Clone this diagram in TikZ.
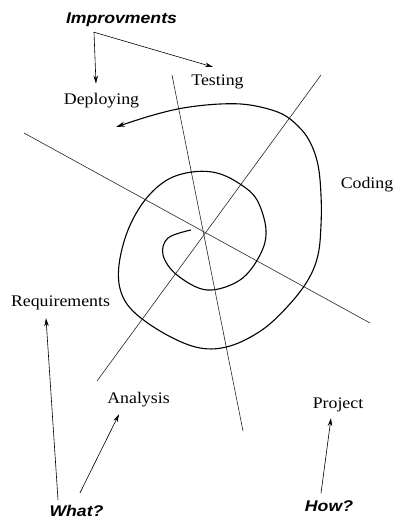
\documentclass[tikz,border=0pt]{standalone}
\usepackage{fontspec}
\setmainfont{Liberation Serif}[FakeStretch=1.1]
\newfontfamily\questfont{Liberation Sans}[FakeStretch=1.14]
\usepackage{tikz}
\usetikzlibrary{arrows.meta}

\begin{document}
\begin{tikzpicture}[
  x=1pt, y=-1pt,
  phase/.style={font=\fontsize{16.2}{18}\selectfont, inner sep=0pt, anchor=base},
  quest/.style={font=\fontsize{15.5}{18}\questfont\bfseries\itshape, inner sep=0pt, anchor=base},
  axisline/.style={line width=0.6pt, color=black!85},
  spiral/.style={line width=1.1pt, -{Stealth[length=9pt,width=5pt]}},
  arrow/.style={-{Stealth[length=8pt,width=4.5pt]}, line width=0.6pt}
]
\useasboundingbox (0,0) rectangle (398,523);

% phases round the spiral
\node[phase] (testing)  at (217.5,85.7)  {Testing};
\node[phase] (deploy)   at (101.5,104)   {Deploying};
\node[phase] (coding)   at (367,188)     {Coding};
\node[phase] (req)      at (60.5,306.5)  {Requirements};
\node[phase] (analysis) at (138.5,403.3) {Analysis};
\node[phase] (project)  at (338,408.3)   {Project};

% questions
\node[quest] (imp)  at (121.5,23.3) {Improvments};
\node[quest] (what) at (76.5,516)   {What?};
\node[quest] (how)  at (329,511.5)  {How?};

% the three axes
\draw[axisline] (172,75)  -- (243,431);
\draw[axisline] (321,75)  -- (97,381);
\draw[axisline] (24,133)  -- (370,323);

% spiral, from the centre outwards
\draw[spiral] plot[smooth, tension=0.6] coordinates {
  (191,230) (168,238) (163,255) (177,275) (207,290) (240,280) (260,255)
  (266,230) (257,200) (240,184) (217,173) (192,172) (167,180) (145,200)
  (128,230) (119,265) (121,292) (135,313) (167,335) (200,348) (230,346)
  (262,330) (288,306) (308,280) (318,255) (321,225) (321,195) (318,165)
  (310,142) (298,126) (280,113) (250,105) (220,104) (183,108) (150,116)
  (116,127)};

\coordinate (fork) at ([shift={(-27.5,5.5)}]imp.south);
\draw[arrow] (fork) -- ([shift={(-5.5,-9)}]deploy.north);
\draw[arrow] (fork) -- ([shift={(-4.5,-7.8)}]testing.north);

\draw[arrow] ([shift={(-18.5,-4.7)}]what.north) -- ([shift={(-14.5,8)}]req.south);
\draw[arrow] ([shift={(3.5,-11.7)}]what.north)  -- ([shift={(-19.5,7.2)}]analysis.south);
\draw[arrow] ([shift={(-8,-7.2)}]how.north)     -- ([shift={(-7,6.2)}]project.south);

\end{tikzpicture}
\end{document}
